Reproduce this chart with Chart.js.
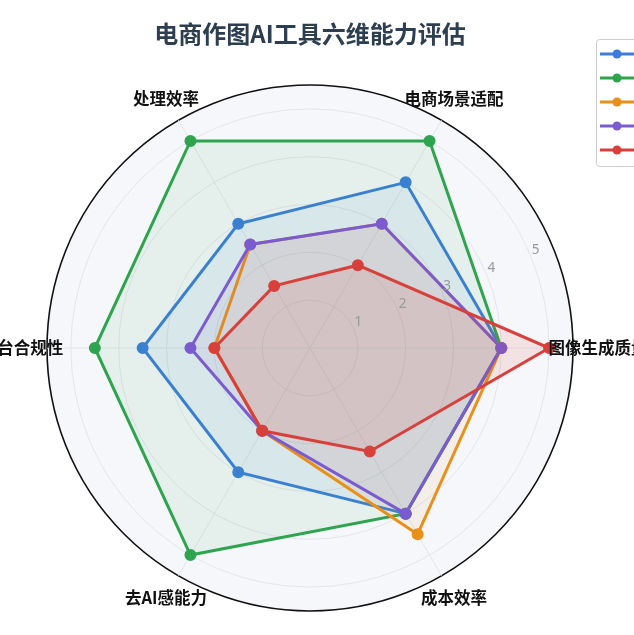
<!DOCTYPE html>
<html>
<head>
<meta charset="utf-8">
<script src="https://cdn.jsdelivr.net/npm/chart.js@4/dist/chart.umd.min.js"></script>
<style>
  html, body { margin: 0; padding: 0; background: #ffffff; overflow: hidden; }
  #wrap { width: 634px; height: 635px; position: relative; }
</style>
</head>
<body>
<div id="wrap"><canvas id="c" width="634" height="635"></canvas></div>
<script>
// ---- data ----
const chartTitle = '电商作图AI工具六维能力评估';
// categories in clockwise order starting at the right-hand axis
const categories = ['图像生成质量', '成本效率', '去AI感能力', '平台合规性', '处理效率', '电商场景适配'];
const seriesNames = ['工具A', '工具B', '工具C', '工具D', '工具E'];
const seriesA = [4, 4, 3, 3.5, 3, 4];
const seriesB = [4, 4, 5, 4.5, 5, 5];
const seriesC = [4, 4.5, 2, 2, 2.5, 3];
const seriesD = [4, 4, 2, 2.5, 2.5, 3];
const seriesE = [5, 2.5, 2, 2, 1.5, 2];
const tickLabels = [1, 2, 3, 4, 5];
const gridValues = [0, 1, 2, 3, 4, 5, 5.5];
const scaleMax = 5.5;

const colors = ['#3b7ddd', '#2ea44f', '#e8901a', '#7b5bd0', '#d8403b'];
const fills = ['rgba(59,125,221,0.08)', 'rgba(46,164,79,0.08)', 'rgba(232,144,26,0.08)', 'rgba(123,91,208,0.08)', 'rgba(216,64,59,0.11)'];
const seriesValues = [seriesA, seriesB, seriesC, seriesD, seriesE];

const CJK = '"Noto Sans CJK SC", "Noto Sans", sans-serif';

const datasets = seriesValues.map((vals, i) => ({
  label: seriesNames[i],
  data: vals,
  borderColor: colors[i],
  backgroundColor: fills[i],
  pointBackgroundColor: colors[i],
  pointBorderColor: colors[i],
  pointRadius: 4.5,
  pointHoverRadius: 4.5,
  borderWidth: 3,
  fill: true,
  tension: 0,
  order: seriesValues.length - i
}));

const decorPlugin = {
  id: 'decor',
  afterDraw(chart) {
    const ctx = chart.ctx;
    const r = chart.scales.r;
    ctx.save();
    // title
    ctx.fillStyle = '#2c3e50';
    ctx.font = 'bold 24px ' + CJK;
    ctx.textAlign = 'center';
    ctx.textBaseline = 'middle';
    ctx.fillText(chartTitle, r.xCenter, 34);

    // point labels
    ctx.fillStyle = '#111111';
    ctx.font = 'bold 16.5px ' + CJK;
    categories.forEach((cat, i) => {
      const p = r.getPointPosition(i, r.drawingArea + 25);
      ctx.fillText(cat, p.x, p.y);
    });

    // tick labels
    ctx.fillStyle = '#999999';
    ctx.font = '13.5px "Noto Sans", sans-serif';
    const ang = 22 * Math.PI / 180;
    tickLabels.forEach(v => {
      const d = r.getDistanceFromCenterForValue(v);
      ctx.fillText(String(v), r.xCenter + d * Math.cos(ang) + 4, r.yCenter - d * Math.sin(ang) - 8);
    });

    // legend (cut by the right edge)
    const lx = 596.5, ly = 39.5, lh = 127, step = 24;
    ctx.fillStyle = '#ffffff';
    ctx.strokeStyle = '#cccccc';
    ctx.lineWidth = 1;
    ctx.beginPath();
    ctx.roundRect(lx, ly, 160, lh, 3);
    ctx.fill();
    ctx.stroke();
    chart.data.datasets.forEach((ds, i) => {
      const y = 54 + i * step;
      ctx.strokeStyle = ds.borderColor;
      ctx.lineWidth = 3;
      ctx.beginPath();
      ctx.moveTo(600, y);
      ctx.lineTo(640, y);
      ctx.stroke();
      ctx.fillStyle = ds.borderColor;
      ctx.beginPath();
      ctx.arc(617, y, 4.5, 0, Math.PI * 2);
      ctx.fill();
      ctx.fillStyle = '#333';
      ctx.font = '13px ' + CJK;
      ctx.textAlign = 'left';
      ctx.fillText(ds.label, 646, y);
    });
    ctx.restore();
  }
};

new Chart(document.getElementById('c'), {
  type: 'radar',
  data: { labels: categories, datasets },
  plugins: [decorPlugin],
  options: {
    responsive: false,
    animation: false,
    devicePixelRatio: 1,
    layout: { padding: { left: 47, right: 61, top: 85, bottom: 24 } },
    plugins: {
      legend: { display: false },
      title: { display: false },
      tooltip: { enabled: false }
    },
    elements: { line: { tension: 0 } },
    scales: {
      r: {
        min: 0,
        max: scaleMax,
        startAngle: 90,
        backgroundColor: '#f5f7fa',
        afterBuildTicks: s => { s.ticks = gridValues.map(v => ({ value: v })); },
        ticks: { display: false },
        pointLabels: { display: false },
        grid: {
          circular: true,
          color: ctx => (ctx.tick && ctx.tick.value === scaleMax) ? '#111111' : '#e2e5ea',
          lineWidth: ctx => (ctx.tick && ctx.tick.value === scaleMax) ? 1.6 : 1
        },
        angleLines: { color: '#e2e5ea', lineWidth: 1 }
      }
    }
  }
});
</script>
</body>
</html>
